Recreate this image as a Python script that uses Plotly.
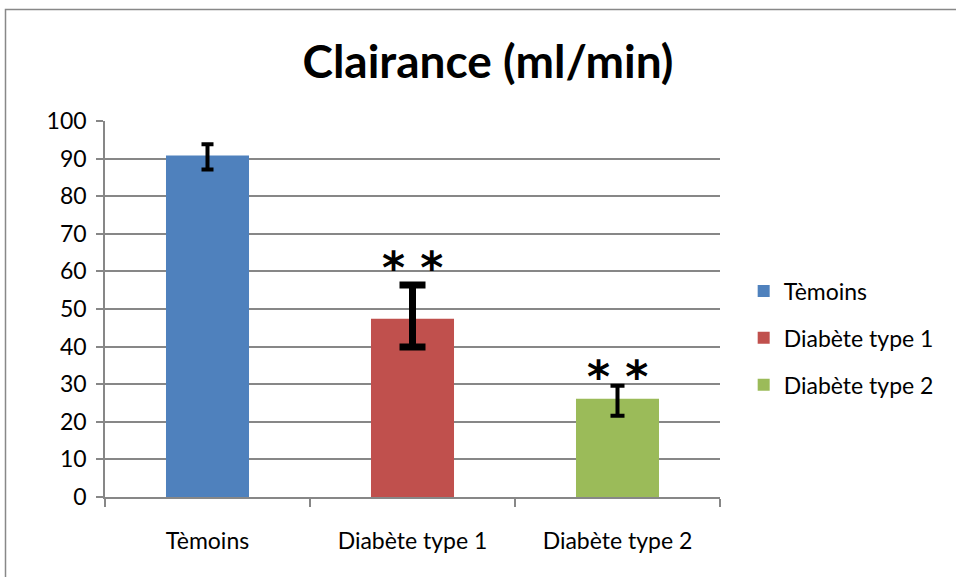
import plotly.graph_objects as go

categories = ["Tèmoins", "Diabète type 1", "Diabète type 2"]
values = [90.8, 47.4, 26.1]
err_plus = [3.0, 9.0, 3.5]
err_minus = [3.7, 7.5, 4.5]
colors = ["#4F81BD", "#C0504D", "#9BBB59"]
signif = ["", "* *", "* *"]
y_ticks = list(range(0, 101, 10))

FONT = "Lato, Liberation Sans, sans-serif"
GRID = "#878787"

fig = go.Figure()
cap_w = [6, 13, 7]
cap_t = [4, 7, 4]
star_shift = [0, -10, -18]
for i, cat in enumerate(categories):
    fig.add_trace(go.Bar(
        x=[cat], y=[values[i]], name=cat,
        marker=dict(color=colors[i], line=dict(width=0)),
        width=0.405,
        legendgroup=cat,
        error_y=dict(type="data", symmetric=False, array=[err_plus[i]],
                     arrayminus=[err_minus[i]], color="black",
                     thickness=cap_t[i], width=cap_w[i]),
    ))

for i, cat in enumerate(categories):
    if signif[i]:
        fig.add_annotation(x=cat, y=values[i] + err_plus[i], text="<b>" + signif[i] + "</b>",
                           showarrow=False, yanchor="bottom", yshift=star_shift[i],
                           font=dict(family="DejaVu Sans", size=44, color="black"))

fig.add_shape(type="rect", xref="paper", yref="paper",
              x0=-99.5 / 615, x1=2.0, y0=-1.0, y1=(497 - 9.5) / 376,
              line=dict(color="#888888", width=1.5), fillcolor="rgba(0,0,0,0)", layer="below")

fig.update_layout(
    width=956, height=577,
    margin=dict(l=105, r=236, t=121, b=80),
    paper_bgcolor="white", plot_bgcolor="white",
    barmode="overlay",
    font=dict(family=FONT, color="black", size=23),
    title=dict(text="<b>Clairance (ml/min)</b>", x=488 / 956, xanchor="center",
               y=1 - 62 / 577, yanchor="middle",
               font=dict(family=FONT, size=46, color="black")),
    showlegend=True,
    legend=dict(x=1.0385, xanchor="left", y=0.423, yanchor="middle",
                font=dict(family=FONT, size=23), tracegroupgap=14,
                bgcolor="rgba(0,0,0,0)"),
    xaxis=dict(type="category", categoryorder="array", categoryarray=categories,
               showline=True, linecolor=GRID, linewidth=1.5,
               ticks="outside", tickson="boundaries", ticklen=8, tickcolor=GRID,
               tickwidth=1.5, showgrid=False, tickfont=dict(size=23),
               ticklabelstandoff=23),
    yaxis=dict(range=[0, 100], tickvals=y_ticks, showline=True, linecolor=GRID,
               linewidth=1.5, ticks="outside", ticklen=7, tickcolor=GRID, tickwidth=1.5,
               showgrid=True, gridcolor=GRID, gridwidth=1.5, zeroline=False,
               tickfont=dict(size=23), ticklabelstandoff=5),
)

fig.write_html("out.html", config={"displayModeBar": False},
               post_script="document.body.style.margin='0';document.body.style.overflow='hidden';")
